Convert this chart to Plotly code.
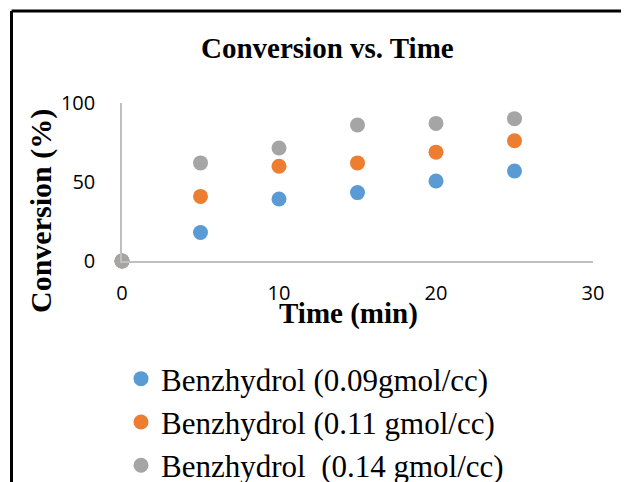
import plotly.graph_objects as go

# data
time_min = [0, 5, 10, 15, 20, 25]
conv_009 = [0, 18.0, 39.2, 43.3, 50.6, 57.0]
conv_011 = [0, 40.9, 60.0, 62.1, 68.9, 76.1]
conv_014 = [0, 62.1, 71.5, 86.1, 87.1, 90.1]
series_names = ["Benzhydrol (0.09gmol/cc)",
                "Benzhydrol (0.11 gmol/cc)",
                "Benzhydrol  (0.14 gmol/cc)"]
colors = ["#5B9BD5", "#ED7D31", "#A5A5A5"]

# page body has an 8px margin, so the figure sits 8px in from the corner
OFF = 8
W, H = 629 - OFF, 482 - OFF
L, R, T, B = 122 - OFF, 36, 103 - OFF, 221
pw, ph = W - L - R, H - T - B

def px(x):
    return (x - OFF - L) / pw

def py(y):
    return (H - B - (y - OFF)) / ph

fig = go.Figure()
for name, ys, c in zip(series_names, [conv_009, conv_011, conv_014], colors):
    fig.add_trace(go.Scatter(x=time_min, y=ys, mode="markers", name=name,
                             marker=dict(size=15, color=c),
                             cliponaxis=False))

serif = "Liberation Serif"
fig.update_layout(
    width=W, height=H,
    margin=dict(l=L, r=R, t=T, b=B, pad=0, autoexpand=False),
    paper_bgcolor="white", plot_bgcolor="white",
    showlegend=True,
    legend=dict(x=px(121), y=py(352), xanchor="left", yanchor="top",
                font=dict(family=serif, size=31, color="black"),
                itemwidth=30, tracegroupgap=0, bgcolor="rgba(0,0,0,0)"),
    xaxis=dict(range=[0, 30], dtick=10, showgrid=False, zeroline=False,
               showline=True, linecolor="#BFBFBF", linewidth=1.5,
               ticks="", ticklabelstandoff=13,
               tickfont=dict(family="Open Sans", size=20, color="black")),
    yaxis=dict(range=[0, 100], dtick=50, showgrid=False, zeroline=False,
               showline=True, linecolor="#BFBFBF", linewidth=1.5,
               ticks="", ticklabelstandoff=21,
               tickfont=dict(family="Open Sans", size=20, color="black")),
    annotations=[
        dict(text="<b>Conversion vs. Time</b>", xref="paper", yref="paper",
             x=px(327), y=py(48), xanchor="center", yanchor="middle",
             showarrow=False,
             font=dict(family=serif, size=29, color="black")),
        dict(text="<b>Conversion (%)</b>", xref="paper", yref="paper",
             x=px(41), y=py(211), xanchor="center", yanchor="middle",
             showarrow=False, textangle=-90,
             font=dict(family=serif, size=30, color="black")),
        dict(text="<b>Time (min)</b>", xref="paper", yref="paper",
             x=px(348), y=py(313), xanchor="center", yanchor="middle",
             showarrow=False,
             font=dict(family=serif, size=29, color="black")),
    ],
    shapes=[
        dict(type="line", xref="paper", yref="paper",
             x0=px(11.5), y0=py(11), x1=px(640), y1=py(11),
             line=dict(color="black", width=3)),
        dict(type="line", xref="paper", yref="paper",
             x0=px(11.5), y0=py(11), x1=px(11.5), y1=py(495),
             line=dict(color="black", width=3)),
    ],
)

fig.write_html("out.html")
